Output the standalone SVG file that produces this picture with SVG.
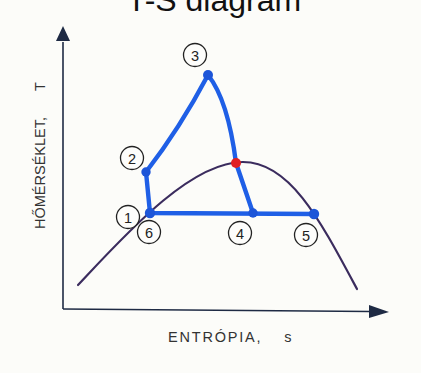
<svg xmlns="http://www.w3.org/2000/svg" width="421" height="373" viewBox="0 0 421 373">
<style>
.axis{stroke:#1e2a44;stroke-width:1.6;fill:none}
.dome{stroke:#3b2c5e;stroke-width:2.2;fill:none;stroke-linecap:round}
.cyc{stroke:#1f5fe6;stroke-width:4.4;fill:none;stroke-linecap:round;stroke-linejoin:round}
.dot{fill:#1d55d8}
.lbl circle{fill:#fdfdfb;stroke:#222;stroke-width:1.3}
.lbl text{font-family:"Liberation Sans",Arial,sans-serif;font-size:14.5px;fill:#222;text-anchor:middle}
.ax{font-family:"Liberation Sans",Arial,sans-serif;font-size:14.5px;fill:#333}
</style>
<defs>
<marker id="ah" viewBox="0 0 10 10" refX="9" refY="5" markerWidth="7" markerHeight="7" markerUnits="userSpaceOnUse" orient="auto">
<path d="M0,0 L10,5 L0,10 Z" fill="#1e2a44"/>
</marker>
</defs>
<rect width="421" height="373" fill="#fcfcf9"/>
<text x="214" y="11" font-family="Liberation Sans,Arial,sans-serif" font-size="32" text-anchor="middle" fill="#111">T-S diagram</text>
<g id="axes">
<path class="axis" d="M63,309 L63,42"/>
<path d="M63,26 L70,41 L56,41 Z" fill="#1e2a44"/>
<path class="axis" d="M63,309 L370,311.5"/>
<path d="M389,312 L369,305 L369,318 Z" fill="#1e2a44"/>
</g>
<g id="connectors">
<path class="dome" d="M78,285 C125,235 190,162 243,162 C290,162 320,220 357,289"/>
<path class="cyc" d="M150,213 L146,172 Q180,128 208,75 Q228,100 236,163 L253,213 M150,213 L314,214"/>
</g>
<g id="points">
<circle class="dot" cx="150" cy="213" r="5.2"/>
<circle class="dot" cx="146" cy="172" r="4.7"/>
<circle class="dot" cx="208" cy="75" r="5"/>
<circle class="dot" cx="253" cy="213" r="4.7"/>
<circle class="dot" cx="314" cy="214" r="5.2"/>
<circle cx="236" cy="163" r="5" fill="#e01f22"/>
</g>
<g id="n1" class="lbl"><circle cx="128" cy="217" r="11.5"/><text x="128" y="222.5">1</text></g>
<g id="n2" class="lbl"><circle cx="132" cy="158" r="11.5"/><text x="132" y="163.5">2</text></g>
<g id="n3" class="lbl"><circle cx="195" cy="55" r="11.5"/><text x="195" y="60.5">3</text></g>
<g id="n4" class="lbl"><circle cx="240" cy="233" r="11.5"/><text x="240" y="238.5">4</text></g>
<g id="n5" class="lbl"><circle cx="306" cy="235" r="11.5"/><text x="306" y="240.5">5</text></g>
<g id="n6" class="lbl"><circle cx="149" cy="232" r="11.5"/><text x="149" y="237.5">6</text></g>
<text class="ax" transform="translate(45,229) rotate(-90)">HŐMÉRSÉKLET,<tspan dx="26">T</tspan></text>
<text class="ax" x="168" y="342" letter-spacing="1.8">ENTRÓPIA,<tspan dx="22">s</tspan></text>
</svg>
